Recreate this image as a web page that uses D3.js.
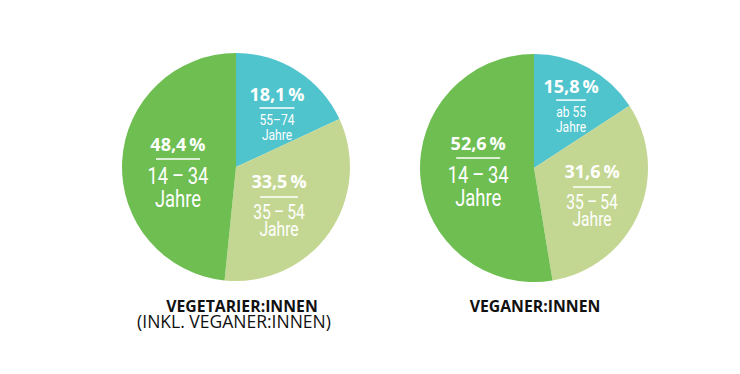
<!doctype html>
<html>
  <head>
    <title>Altersverteilung</title>
    <script src="https://d3js.org/d3.v7.min.js"></script>
    <style>
        body {
            margin: 0;
            padding: 0;
            background: #ffffff;
        }
        .pct {
            font-family: "Open Sans", Arial;
            font-weight: 700;
            font-size: 18px;
            fill: #ffffff;
        }
        .age {
            font-family: Roboto, Arial;
            font-weight: 400;
            fill: #ffffff;
        }
        .title {
            font-family: "Open Sans", Arial;
            font-size: 15.8px;
            fill: #111111;
        }
        .subtitle {
            font-family: "Open Sans", Arial;
            font-size: 17.5px;
            fill: #111111;
        }
    </style>
  </head>
  <body>
        <div id="chart"></div>
        <script>

            /*
            Data
            */
            var groups = ["VEGETARIER:INNEN", "VEGANER:INNEN"];
            var subtitles = ["(INKL. VEGANER:INNEN)", ""];
            var vegetarierValues = [18.1, 33.5, 48.4];
            var veganerValues = [15.8, 31.6, 52.6];
            var vegetarierAges = ["55\u201374", "35\u2009\u2013\u200954", "14\u2009\u2013\u200934"];
            var veganerAges = ["ab 55", "35\u2009\u2013\u200954", "14\u2009\u2013\u200934"];
            var ageSuffix = "Jahre";

            var colors = ["#4fc4cd", "#c4d792", "#6ebe52"];

            /*
            Layout
            */
            var width = 740;
            var height = 374;
            var radius = 114;
            var centers = [[236, 167], [534, 168]];
            var labelRadius = 62;

            // nudge of the label block from the arc centroid, per pie and slice
            var nudges = [
                [[7.6, -13.7], [-7.5, -15], [3.9, -12.9]],
                [[7.5, -20.4], [1.3, -15], [6, -23]]
            ];
            // per slice size class: age font size, line offset, age baseline, Jahre baseline
            var sizes = [
                {font: 15, line: 7, age: 24, jahre: 39, lineW: null},
                {font: 19.5, line: 9, age: 31, jahre: 48, lineW: 38},
                {font: 23, line: 8, age: 33, jahre: 56, lineW: 44}
            ];
            var squeeze = 0.8;

            var svg = d3.select("#chart")
                .append("svg")
                .attr("width", width)
                .attr("height", height);

            var pie = d3.pie()
                .sort(null)
                .value((d) => d);

            var arc = d3.arc()
                .innerRadius(0)
                .outerRadius(radius);

            var labelArc = d3.arc()
                .innerRadius(labelRadius)
                .outerRadius(labelRadius);

            var fmt = (v) => d3.format(".1f")(v).replace(".", ",") + "\u2009%";

            var allValues = [vegetarierValues, veganerValues];
            var allAges = [vegetarierAges, veganerAges];

            allValues.forEach(function(values, p) {
                var g = svg.append("g")
                    .attr("transform", "translate(" + centers[p][0] + "," + centers[p][1] + ")");

                var slices = pie(values);

                g.selectAll("path")
                    .data(slices)
                    .enter()
                    .append("path")
                    .attr("d", arc)
                    .style("fill", (d, i) => colors[i]);

                slices.forEach(function(d, i) {
                    var c = labelArc.centroid(d);
                    var s = sizes[i];
                    var lx = c[0] + nudges[p][i][0];
                    var ly = c[1] + nudges[p][i][1];
                    var lg = g.append("g")
                        .attr("transform", "translate(" + lx + "," + ly + ")");

                    lg.append("text")
                        .attr("class", "pct")
                        .attr("text-anchor", "middle")
                        .text(fmt(d.data));

                    var age = lg.append("text")
                        .attr("class", "age")
                        .attr("text-anchor", "middle")
                        .attr("transform", "translate(0," + s.age + ") scale(" + squeeze + ",1)")
                        .style("font-size", s.font + "px")
                        .text(allAges[p][i]);

                    lg.append("text")
                        .attr("class", "age")
                        .attr("text-anchor", "middle")
                        .attr("transform", "translate(0," + s.jahre + ") scale(" + squeeze + ",1)")
                        .style("font-size", s.font + "px")
                        .text(ageSuffix);

                    var lw = s.lineW || age.node().getComputedTextLength() * squeeze;
                    lg.append("line")
                        .attr("x1", -lw / 2)
                        .attr("x2", lw / 2)
                        .attr("y1", s.line)
                        .attr("y2", s.line)
                        .attr("stroke", "#ffffff")
                        .attr("stroke-width", 1.5);
                });

                svg.append("text")
                    .attr("class", "title")
                    .attr("x", centers[p][0] + (p === 0 ? 6 : 1))
                    .attr("y", 312)
                    .attr("text-anchor", "middle")
                    .style("font-weight", 700)
                    .text(groups[p]);

                if (subtitles[p]) {
                    svg.append("text")
                        .attr("class", "subtitle")
                        .attr("x", centers[p][0] - 2)
                        .attr("y", 328)
                        .attr("text-anchor", "middle")
                        .text(subtitles[p]);
                }
            });

        </script>
    </body>
</html>
